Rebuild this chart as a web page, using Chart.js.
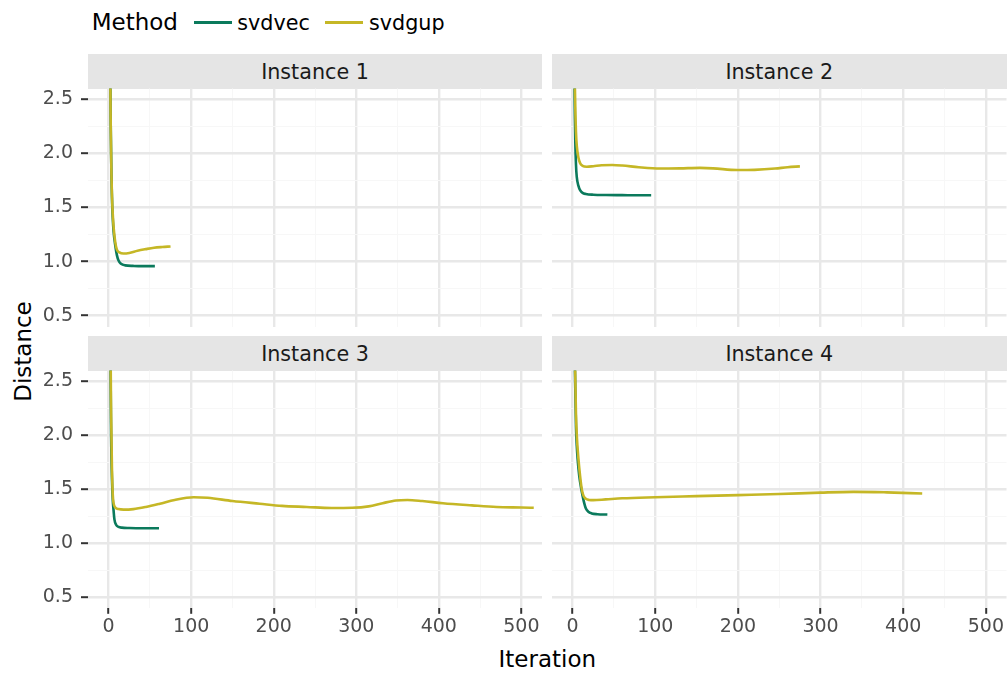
<!DOCTYPE html>
<html>
<head>
<meta charset="utf-8">
<script src="https://cdn.jsdelivr.net/npm/chart.js@4.4.1/dist/chart.umd.min.js"></script>
<style>
  body { margin: 0; background: #fff; font-family: "DejaVu Sans", sans-serif; }
  #wrap { position: relative; width: 1008px; height: 675px; overflow: hidden; }
  canvas { position: absolute; left: 0; top: 0; }
  .strip { position: absolute; background: #e5e5e5; color: #1a1a1a; font-size: 20.7px; text-align: center; }
  .txt { position: absolute; white-space: nowrap; color: #000; }
  .key { position: absolute; height: 3px; }
</style>
</head>
<body>
<div id="wrap">
  <div class="txt" style="left:91.7px; top:10.5px; font-size:23px; line-height:23px;">Method</div>
  <div class="key" style="left:194px; top:21.2px; width:37.7px; background:#0b7a5c;"></div>
  <div class="txt" style="left:237.3px; top:12.5px; font-size:20.7px; line-height:20.7px;">svdvec</div>
  <div class="key" style="left:325px; top:21.2px; width:38px; background:#c5b726;"></div>
  <div class="txt" style="left:369px; top:12.5px; font-size:20.7px; line-height:20.7px;">svdgup</div>

  <div class="strip" style="left:88px; top:54px; width:454px; height:34.5px; line-height:37px;">Instance 1</div>
  <div class="strip" style="left:552px; top:54px; width:454.5px; height:34.5px; line-height:37px;">Instance 2</div>
  <div class="strip" style="left:88px; top:336px; width:454px; height:34.5px; line-height:37px;">Instance 3</div>
  <div class="strip" style="left:552px; top:336px; width:454.5px; height:34.5px; line-height:37px;">Instance 4</div>

  <div class="txt" style="left:88px; width:918.5px; top:648.2px; font-size:23px; line-height:23px; text-align:center;">Iteration</div>
  <div class="txt" style="left:-127px; width:300px; top:340.2px; font-size:23px; line-height:23px; text-align:center; transform:rotate(-90deg);">Distance</div>

  <canvas id="p1" width="1008" height="675"></canvas>
  <canvas id="p2" width="1008" height="675"></canvas>
  <canvas id="p3" width="1008" height="675"></canvas>
  <canvas id="p4" width="1008" height="675"></canvas>
</div>
<script>
// methods and colours
const methods = ['svdvec', 'svdgup'];
const methodColors = ['#0b7a5c', '#c5b726'];

// axis ticks
const xMajor = [0, 100, 200, 300, 400, 500];
const xMinor = [50, 150, 250, 350, 450];
const yMajor = [0.5, 1.0, 1.5, 2.0, 2.5];
const yMinor = [0.75, 1.25, 1.75, 2.25];

// [iteration, distance]
const inst1Svdvec = [[1, 6], [2, 2.9], [3, 2.0], [4, 1.6], [5, 1.4], [6, 1.28], [8, 1.15], [10, 1.06],
    [12, 1.01], [15, 0.98], [20, 0.965], [30, 0.96], [40, 0.958], [56, 0.958]];
const inst1Svdgup = [[1, 6], [2, 2.9], [3, 2.0], [4, 1.62], [5, 1.44], [6, 1.32], [8, 1.18], [10, 1.11],
    [13, 1.085], [18, 1.075], [25, 1.08], [35, 1.1], [45, 1.115], [55, 1.128], [65, 1.135], [75, 1.14]];

const inst2Svdvec = [[1, 6], [2, 3.0], [3, 2.2], [4, 1.9], [5, 1.78], [7, 1.7], [9, 1.66], [12, 1.635],
    [16, 1.625], [25, 1.618], [40, 1.615], [60, 1.614], [80, 1.613], [95, 1.613]];
const inst2Svdgup = [[1, 6], [2, 3.2], [3, 2.5], [4, 2.2], [5, 2.07], [7, 1.96], [9, 1.91], [12, 1.885],
    [17, 1.877], [25, 1.882], [35, 1.89], [48, 1.893], [60, 1.888], [80, 1.872], [106, 1.86], [130, 1.862],
    [154, 1.866], [170, 1.862], [199, 1.846], [220, 1.848], [245, 1.86], [260, 1.872], [275, 1.88]];

const inst3Svdvec = [[1, 6], [2, 3.0], [3, 2.0], [4, 1.6], [5, 1.4], [6, 1.3], [7, 1.22], [9, 1.17],
    [12, 1.15], [16, 1.143], [25, 1.14], [40, 1.138], [61, 1.138]];
const inst3Svdgup = [[1, 6], [2, 3.2], [3, 2.2], [4, 1.7], [5, 1.45], [6, 1.37], [8, 1.33], [12, 1.315],
    [18, 1.31], [30, 1.315], [45, 1.335], [62, 1.365], [80, 1.4], [103, 1.425], [120, 1.42], [150, 1.39],
    [183, 1.365], [210, 1.345], [240, 1.335], [270, 1.325], [295, 1.327], [315, 1.34], [332, 1.37],
    [348, 1.395], [362, 1.4], [380, 1.39], [405, 1.37], [440, 1.35], [470, 1.335], [500, 1.33], [515, 1.327]];

const inst4Svdvec = [[1, 6], [2, 3.2], [3, 2.5], [4, 2.08], [5, 1.9], [6, 1.78], [8, 1.62], [10, 1.52],
    [12, 1.44], [14, 1.37], [16, 1.32], [19, 1.29], [23, 1.275], [30, 1.268], [42, 1.265]];
const inst4Svdgup = [[1, 6], [2, 3.3], [3, 2.6], [4, 2.2], [5, 2.0], [7, 1.78], [9, 1.62], [11, 1.5],
    [13, 1.44], [16, 1.41], [20, 1.4], [25, 1.398], [40, 1.405], [60, 1.415], [100, 1.425], [150, 1.435],
    [200, 1.445], [250, 1.455], [300, 1.468], [340, 1.475], [380, 1.47], [423, 1.46]];


const W = 1008, H = 675;
const tickFont = { family: 'DejaVu Sans', size: 19 };

function toXY(pairs) {
    return pairs.map(p => ({ x: p[0], y: p[1] }));
}

function tickList(major, minor) {
    return major.concat(minor).sort((a, b) => a - b).map(v => ({ value: v }));
}

function zeroPad(s) {
    s.paddingLeft = 0; s.paddingRight = 0; s.paddingTop = 0; s.paddingBottom = 0;
}

function makePanel(id, box, vec, gup, showY, showX) {
    const xH = showX ? 40 : 0;
    const isMajor = (ctx, major) => major.includes(ctx.tick.value);
    return new Chart(document.getElementById(id).getContext('2d'), {
        type: 'line',
        data: {
            datasets: [
                { label: methods[0], data: toXY(vec), borderColor: methodColors[0], order: 1 },
                { label: methods[1], data: toXY(gup), borderColor: methodColors[1], order: 0 }
            ]
        },
        options: {
            responsive: false,
            animation: false,
            devicePixelRatio: 1,
            layout: {
                padding: {
                    left: showY ? 0 : box.left,
                    top: box.top,
                    right: W - box.right,
                    bottom: H - box.bottom - xH
                }
            },
            elements: {
                point: { radius: 0 },
                line: { borderWidth: 2.6, cubicInterpolationMode: 'monotone' }
            },
            datasets: { line: { clip: 0 } },
            plugins: { legend: { display: false }, tooltip: { enabled: false } },
            scales: {
                x: {
                    type: 'linear', min: -25, max: 525,
                    afterBuildTicks: s => { s.ticks = tickList(xMajor, xMinor); },
                    afterFit: s => { s.height = xH; zeroPad(s); },
                    border: { display: false },
                    grid: {
                        color: ctx => isMajor(ctx, xMajor) ? '#e8e8e8' : '#f7f7f7',
                        lineWidth: ctx => isMajor(ctx, xMajor) ? 2.4 : 1,
                        drawTicks: showX, tickLength: 6, tickWidth: 2,
                        tickColor: ctx => isMajor(ctx, xMajor) ? '#333333' : 'rgba(0,0,0,0)'
                    },
                    ticks: {
                        display: showX, autoSkip: false, maxRotation: 0, minRotation: 0,
                        padding: 2, color: '#4d4d4d', font: tickFont,
                        callback: v => xMajor.includes(v) ? String(v) : ''
                    }
                },
                y: {
                    type: 'linear', min: 0.4, max: 2.6,
                    afterBuildTicks: s => { s.ticks = tickList(yMajor, yMinor); },
                    afterFit: s => { s.width = showY ? box.left : 0; zeroPad(s); },
                    border: { display: false },
                    grid: {
                        color: ctx => isMajor(ctx, yMajor) ? '#e8e8e8' : '#f7f7f7',
                        lineWidth: ctx => isMajor(ctx, yMajor) ? 2.4 : 1,
                        drawTicks: showY, tickLength: 7, tickWidth: 2,
                        tickColor: ctx => isMajor(ctx, yMajor) ? '#333333' : 'rgba(0,0,0,0)'
                    },
                    ticks: {
                        display: showY, autoSkip: false,
                        padding: 8, color: '#4d4d4d', font: tickFont,
                        callback: v => yMajor.includes(v) ? v.toFixed(1) : ''
                    }
                }
            }
        }
    });
}

makePanel('p1', { left: 88, top: 88.5, right: 542, bottom: 326.5 }, inst1Svdvec, inst1Svdgup, true, false);
makePanel('p2', { left: 552, top: 88.5, right: 1006.5, bottom: 326.5 }, inst2Svdvec, inst2Svdgup, false, false);
makePanel('p3', { left: 88, top: 370.5, right: 542, bottom: 607.8 }, inst3Svdvec, inst3Svdgup, true, true);
makePanel('p4', { left: 552, top: 370.5, right: 1006.5, bottom: 607.8 }, inst4Svdvec, inst4Svdgup, false, true);
</script>
</body>
</html>
